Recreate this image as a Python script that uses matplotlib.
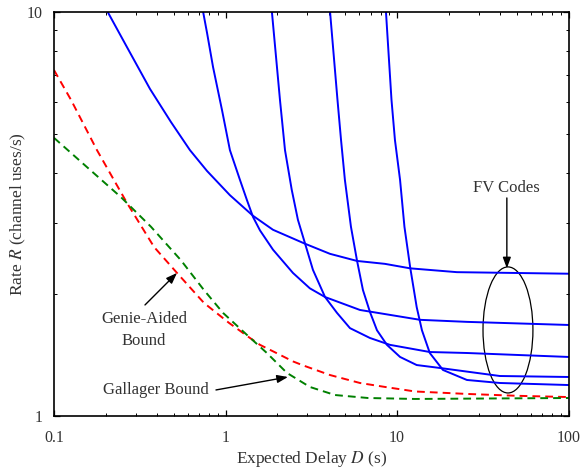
import matplotlib
matplotlib.use("Agg")
import matplotlib.pyplot as plt
from matplotlib.patches import Ellipse
from matplotlib.ticker import NullFormatter

plt.rcParams['font.family'] = ['Liberation Serif', 'DejaVu Serif']
plt.rcParams['mathtext.fontset'] = 'stix'

TXT = '#333333'

# FV code curves (expected delay D, rate R)
fv1_x = [0.204, 0.266, 0.3626, 0.4806, 0.620, 0.780, 1.06, 1.445, 1.89, 2.90, 4.06, 5.83, 8.49, 11.9, 22.3, 100]
fv1_y = [10.06, 8.19, 6.45, 5.34, 4.55, 4.04, 3.52, 3.13, 2.89, 2.67, 2.52, 2.42, 2.38, 2.32, 2.27, 2.25]

fv2_x = [0.738, 0.780, 0.845, 0.953, 1.06, 1.213, 1.333, 1.445, 1.587, 1.89, 2.47, 3.10, 3.80, 6.07, 13.6, 25.5, 100]
fv2_y = [10.06, 8.87, 7.31, 5.72, 4.55, 3.84, 3.42, 3.11, 2.88, 2.58, 2.26, 2.07, 1.97, 1.83, 1.73, 1.71, 1.68]

fv3_x = [1.86, 2.075, 2.22, 2.43, 2.64, 2.90, 3.23, 3.80, 4.46, 5.31, 6.94, 9.08, 15.5, 25.5, 100]
fv3_y = [10.06, 6.06, 4.55, 3.63, 3.06, 2.68, 2.30, 1.97, 1.80, 1.65, 1.56, 1.50, 1.44, 1.432, 1.40]

fv4_x = [4.06, 4.49, 4.71, 4.96, 5.38, 5.83, 6.32, 6.94, 7.63, 8.72, 10.4, 13.0, 17.7, 39.7, 100]
fv4_y = [10.06, 6.06, 4.82, 3.84, 2.94, 2.43, 2.05, 1.81, 1.63, 1.50, 1.40, 1.337, 1.315, 1.256, 1.249]

fv5_x = [8.60, 9.27, 9.71, 10.4, 11.03, 11.9, 13.0, 13.95, 15.5, 18.5, 25.5, 39.7, 100]
fv5_y = [10.06, 6.06, 4.82, 3.84, 2.94, 2.34, 1.86, 1.63, 1.432, 1.30, 1.228, 1.207, 1.193]

# bounds
genie_x = [0.1, 0.1256, 0.178, 0.266, 0.383, 0.521, 0.748, 1.047, 1.387, 1.587, 1.99, 2.47, 2.82, 4.06, 6.07, 8.5, 12.7, 25.5, 50, 100]
genie_y = [7.18, 6.06, 4.55, 3.37, 2.62, 2.26, 1.905, 1.70, 1.56, 1.50, 1.43, 1.365, 1.335, 1.263, 1.207, 1.18, 1.150, 1.134, 1.122, 1.114]

gallager_x = [0.1, 0.1557, 0.2457, 0.3675, 0.549, 0.748, 0.966, 1.333, 1.74, 2.28, 3.10, 4.34, 6.76, 12.7, 100]
gallager_y = [4.88, 4.13, 3.48, 2.94, 2.43, 2.05, 1.80, 1.587, 1.432, 1.278, 1.18, 1.127, 1.108, 1.102, 1.108]

fig = plt.figure(figsize=(5.84, 4.70), dpi=100)
ax = fig.add_axes([0.0925, 0.1149, 0.8813, 0.8596])

for xs, ys in [(fv1_x, fv1_y), (fv2_x, fv2_y), (fv3_x, fv3_y), (fv4_x, fv4_y), (fv5_x, fv5_y)]:
    ax.plot(xs, ys, color='#0000ff', lw=1.4)

ax.plot(genie_x, genie_y, color='#ff0000', lw=1.4, dashes=(4, 2.6))
ax.plot(gallager_x, gallager_y, color='#008000', lw=1.4, dashes=(4, 2.6))

ax.set_xscale('log')
ax.set_yscale('log')
ax.set_xlim(0.1, 100)
ax.set_ylim(1, 10)

ax.set_xticks([0.1, 1, 10, 100])
ax.set_xticklabels(['0.1', '1', '10', '100'])
ax.set_yticks([1, 10])
ax.set_yticklabels(['1', '10'])
ax.xaxis.set_minor_formatter(NullFormatter())
ax.yaxis.set_minor_formatter(NullFormatter())

ax.tick_params(which='both', direction='in', top=True, right=True, colors='black', labelcolor=TXT, labelsize=11.5)
ax.tick_params(which='major', length=4, width=0.9)
ax.tick_params(which='minor', length=2.2, width=0.7)
ax.tick_params(axis='x', pad=10)
ax.tick_params(axis='y', pad=8)
for s in ax.spines.values():
    s.set_linewidth(1.2)

ax.set_xlabel('Expected Delay $D$ (s)', fontsize=12.5, color=TXT, labelpad=2)
ax.set_ylabel('Rate $R$ (channel uses/s)', fontsize=12.5, color=TXT)
ax.yaxis.set_label_coords(-0.05, 0.5)

arrow = dict(arrowstyle='-|>,head_length=0.65,head_width=0.24', color='black', lw=1, shrinkA=0, shrinkB=0)

ax.text(43.6, 3.67, 'FV Codes', fontsize=12, color=TXT, ha='center', va='center')
ax.annotate('', xy=(43.6, 2.32), xytext=(43.6, 3.465), arrowprops=arrow)
ax.add_patch(Ellipse((0.882, 0.213), 0.097, 0.312, transform=ax.transAxes,
                     fill=False, edgecolor='black', lw=0.9))

ax.text(0.3346, 1.633, 'Genie-Aided\nBound', fontsize=12, color=TXT, ha='center', va='center',
        linespacing=1.45)
ax.annotate('', xy=(0.521, 2.26), xytext=(0.339, 1.883), arrowprops=arrow)

ax.text(0.393, 1.160, 'Gallager Bound', fontsize=12, color=TXT, ha='center', va='center')
ax.annotate('', xy=(2.31, 1.249), xytext=(0.879, 1.160), arrowprops=arrow)

fig.savefig('out.png', dpi=100)
